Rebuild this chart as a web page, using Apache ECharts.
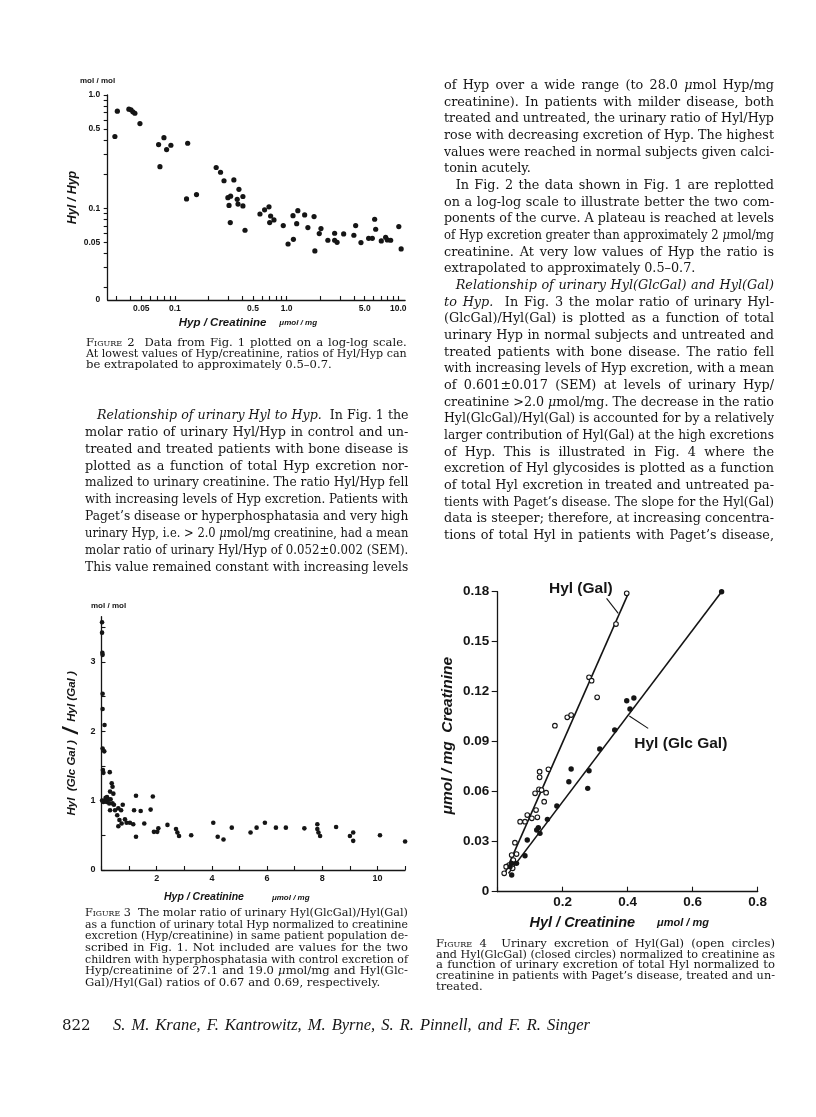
<!DOCTYPE html>
<html><head><meta charset="utf-8">
<script src="https://cdn.jsdelivr.net/npm/echarts@6/dist/echarts.min.js"></script>
<style>
html,body{margin:0;padding:0;background:#fff;}
#page{position:relative;width:816px;height:1117px;overflow:hidden;background:#fff;}
#chart{position:absolute;left:0;top:0;width:816px;height:1117px;}
.ln{position:absolute;white-space:nowrap;font-family:"DejaVu Serif",serif;color:#151515;}
.ln span{display:inline-block;transform-origin:0 50%;}
.sc{font-variant:small-caps;}
.lbl{position:absolute;font-family:"Liberation Sans",Arial,sans-serif;font-weight:bold;color:#151515;white-space:nowrap;line-height:1;}
</style></head>
<body><div id="page"><div id="chart"></div></div>
<script>
// ---------- Figure 2 (log-log): [Hyp/creatinine, Hyl/Hyp]
const fig2Points = [[0.029,0.43],[0.0305,0.72],[0.0387,0.75],[0.0404,0.74],[0.042,0.71],[0.0438,0.69],[0.0486,0.56],
[0.0714,0.365],[0.0797,0.42],[0.0842,0.33],[0.092,0.36],[0.0734,0.233],[0.13,0.375],[0.127,0.121],[0.156,0.132],
[0.234,0.229],[0.256,0.208],[0.275,0.175],[0.337,0.178],[0.298,0.124],[0.315,0.128],[0.305,0.106],[0.313,0.0748],
[0.361,0.12],[0.374,0.147],[0.367,0.109],[0.406,0.127],[0.406,0.105],[0.424,0.064],[0.577,0.089],[0.635,0.097],
[0.695,0.103],[0.719,0.0855],[0.77,0.0789],[0.705,0.0748],[0.933,0.0703],[1.03,0.0484],[1.15,0.0532],[1.14,0.0861],
[1.26,0.0953],[1.23,0.0732],[1.45,0.0873],[1.55,0.0675],[1.76,0.0844],[1.79,0.042],[1.96,0.0598],[2.03,0.0662],
[2.34,0.0522],[2.69,0.0602],[2.69,0.0522],[2.83,0.0501],[3.24,0.0594],[4.0,0.0578],[4.15,0.0703],[4.63,0.0498],
[5.42,0.0543],[5.85,0.0543],[6.14,0.08],[6.27,0.0653],[7.04,0.0515],[7.7,0.0555],[7.97,0.0526],[8.54,0.0522],
[10.1,0.0689],[10.6,0.0438]];
const fig2XTicks = [0.03,0.04,0.05,0.06,0.07,0.08,0.09,0.1,0.2,0.3,0.4,0.5,0.6,0.7,0.8,0.9,1,2,3,4,5,6,7,8,9,10];
const fig2XLabelValues = [0.05,0.1,0.5,1,5,10];
const fig2XLabelTexts = ['0.05','0.1','0.5','1.0','5.0','10.0'];
const fig2YTicks = [0.02,0.03,0.04,0.05,0.06,0.07,0.08,0.09,0.1,0.2,0.3,0.4,0.5,0.6,0.7,0.8,0.9,1.0];
const fig2YLabelValues = [0.01552,0.05,0.1,0.5,1.0];
const fig2YLabelTexts = ['0','0.05','0.1','0.5','1.0'];

// ---------- Figure 3: [Hyp/creatinine, Hyl(GlcGal)/Hyl(Gal)]
const fig3Points = [[0.02,3.57],[0.02,3.42],[0.03,3.13],[0.04,3.10],[0.04,2.54],[0.04,2.32],[0.11,2.09],[0.04,1.75],
[0.1,1.71],[0.05,1.44],[0.07,1.40],[0.3,1.41],[0.37,1.25],[0.4,1.2],[0.31,1.13],[0.43,1.1],[0.02,1.0],[0.1,1.0],
[0.15,1.04],[0.2,1.05],[0.07,0.98],[0.19,0.98],[0.25,1.02],[0.33,1.02],[0.28,0.96],[0.4,0.96],[0.45,0.94],[0.31,0.86],
[0.49,0.86],[0.61,0.89],[0.71,0.86],[0.77,0.94],[0.57,0.79],[0.65,0.72],[0.61,0.63],[0.73,0.67],[0.85,0.73],[0.91,0.68],
[1.03,0.68],[1.15,0.66],[1.25,1.07],[1.18,0.86],[1.42,0.85],[1.25,0.48],[1.55,0.67],[1.78,0.87],[1.86,1.06],[1.9,0.55],
[2.06,0.6],[2.02,0.55],[2.39,0.65],[2.7,0.59],[2.75,0.54],[2.81,0.49],[3.25,0.5],[4.05,0.68],[4.21,0.48],[4.42,0.44],
[4.72,0.61],[5.4,0.54],[5.62,0.61],[5.92,0.68],[6.32,0.61],[6.68,0.61],[7.35,0.6],[7.82,0.66],[7.82,0.59],[7.86,0.54],
[7.92,0.49],[8.5,0.62],[9.0,0.49],[9.12,0.54],[9.12,0.42],[10.09,0.5],[11.0,0.41]];
const fig3YLabelValues = [0,1,2,3];
const fig3YTicks = [0,0.5,1,1.5,2,2.5,3,3.5];

// ---------- Figure 4: [Hyl/creatinine, glycoside/creatinine]
const fig4Gal = [[0.397,0.179],[0.42,0.1804],[0.364,0.1606],[0.281,0.1286],[0.289,0.1266],[0.306,0.1166],[0.214,0.1046],
[0.226,0.106],[0.176,0.0996],[0.129,0.072],[0.129,0.0686],[0.156,0.0734],[0.115,0.059],[0.127,0.0614],[0.135,0.061],
[0.149,0.0594],[0.143,0.054],[0.118,0.049],[0.122,0.0446],[0.105,0.044],[0.091,0.046],[0.084,0.042],[0.069,0.042],
[0.053,0.0294],[0.058,0.0226],[0.043,0.022],[0.048,0.019],[0.035,0.016],[0.026,0.015],[0.02,0.011],[0.046,0.014]];
const fig4GlcGal = [[0.689,0.18],[0.397,0.1146],[0.419,0.1162],[0.407,0.1096],[0.36,0.097],[0.314,0.0856],[0.226,0.0736],
[0.219,0.066],[0.281,0.0726],[0.277,0.062],[0.182,0.0514],[0.153,0.0434],[0.125,0.0384],[0.12,0.037],[0.13,0.035],
[0.091,0.031],[0.084,0.0216],[0.058,0.017],[0.043,0.017],[0.043,0.010],[0.038,0.015]];
const fig4GalLine = [[0.022,0.011],[0.402,0.179]];
const fig4GlcGalLine = [[0.033,0.011],[0.689,0.18]];
const fig4GalArrow = [[0.335,0.176],[0.371,0.167]];
const fig4GlcGalArrow = [[0.463,0.098],[0.405,0.1054]];
const fig4GalLabelAt = [0.2557,0.178];
const fig4GlcGalLabelAt = [0.5634,0.089];

const INK = '#151515';
const SANS = '"Liberation Sans", Arial, sans-serif';

function pick(values, texts) {
  return function (v) {
    let best = 0, bd = Infinity;
    for (let i = 0; i < values.length; i++) {
      const d = Math.abs(Math.log(v) - Math.log(values[i] || 1e-9));
      if (d < bd) { bd = d; best = i; }
    }
    return texts[best];
  };
}
const lineAx = {lineStyle:{color:INK,width:1.3}};
const tickSt = {color:INK,width:1.1};
const lbl = (size, margin) => ({color:INK,fontFamily:SANS,fontWeight:'bold',fontSize:size,margin:margin});
const nameSt = (size) => ({color:INK,fontFamily:SANS,fontWeight:'bold',fontStyle:'italic',fontSize:size});
const dot = {color:INK, opacity:1};

const chart = echarts.init(document.getElementById('chart'), null, {renderer:'canvas'});
chart.setOption({
  animation:false,
  backgroundColor:'transparent',
  grid:[
    {left:107.7, top:95, width:297.4, height:205, outerBoundsMode:'none', containLabel:false},
    {left:101.5, top:616.7, width:303.6, height:253.3, outerBoundsMode:'none', containLabel:false},
    {left:497.7, top:591.7, width:260, height:300, outerBoundsMode:'none', containLabel:false}
  ],
  xAxis:[
    {gridIndex:0, type:'log', logBase:10, min:0.025, max:11.5, splitLine:{show:false}, minorTick:{show:false},
     axisLine:lineAx, axisTick:{inside:true,length:4,lineStyle:tickSt,customValues:fig2XTicks},
     axisLabel:Object.assign(lbl(8.5,4),{customValues:fig2XLabelValues, formatter:pick(fig2XLabelValues,fig2XLabelTexts)}),
     name:'{a|Hyp / Creatinine}{b|μmol / mg}', nameLocation:'middle', nameGap:17, nameMoveOverlap:false,
     nameTextStyle:Object.assign(nameSt(11.5),{padding:[0,17,0,0],rich:{a:nameSt(11.5),b:{color:INK,fontFamily:SANS,fontWeight:'bold',fontSize:8,padding:[0,0,0,13]}}})},
    {gridIndex:1, type:'value', min:0, max:11, interval:1, splitLine:{show:false},
     axisLine:lineAx, axisTick:{inside:true,length:4,lineStyle:tickSt},
     axisLabel:Object.assign(lbl(9,4.5),{formatter:v => (v>0 && v%2===0) ? String(v) : ''}),
     name:'{a|Hyp / Creatinine}{b|μmol / mg}', nameLocation:'middle', nameGap:22, nameMoveOverlap:false,
     nameTextStyle:Object.assign(nameSt(10.5),{padding:[0,33,0,0],rich:{a:nameSt(10.5),b:{color:INK,fontFamily:SANS,fontWeight:'bold',fontSize:8,padding:[0,0,0,28]}}})},
    {gridIndex:2, type:'value', min:0, max:0.8, interval:0.2, splitLine:{show:false},
     axisLine:lineAx, axisTick:{inside:true,length:5,lineStyle:tickSt},
     axisLabel:Object.assign(lbl(13.5,4),{formatter:v => v===0 ? '' : v.toFixed(1)}),
     name:'{a|Hyl / Creatinine}{b|μmol / mg}', nameLocation:'middle', nameGap:24, nameMoveOverlap:false,
     nameTextStyle:Object.assign(nameSt(14.5),{padding:[0,17,0,0],rich:{a:nameSt(14.5),b:{color:INK,fontFamily:SANS,fontWeight:'bold',fontSize:11,padding:[0,0,0,22]}}})}
  ],
  yAxis:[
    {gridIndex:0, type:'log', logBase:10, min:0.0155, max:1.0, splitLine:{show:false}, minorTick:{show:false},
     axisLine:lineAx, axisTick:{inside:false,length:4,lineStyle:tickSt,customValues:fig2YTicks},
     axisLabel:Object.assign(lbl(8.5,7.5),{customValues:fig2YLabelValues, formatter:pick(fig2YLabelValues,fig2YLabelTexts)}),
     name:'Hyl / Hyp', nameLocation:'middle', nameRotate:90, nameGap:28.5, nameMoveOverlap:false, nameTextStyle:nameSt(12.5)},
    {gridIndex:1, type:'value', min:0, max:3.65, splitLine:{show:false},
     axisLine:lineAx, axisTick:{inside:true,length:4,lineStyle:tickSt,customValues:fig3YTicks},
     axisLabel:Object.assign(lbl(9,6),{customValues:fig3YLabelValues, formatter:v => String(v)}),
     name:'{a|Hyl  (Glc Gal )}{s| / }{a|Hyl (Gal )}', nameLocation:'middle', nameRotate:90, nameGap:18.5, nameMoveOverlap:false,
     nameTextStyle:Object.assign(nameSt(11.5),{padding:[0,0,0,0],rich:{a:nameSt(11.5),s:{color:INK,fontFamily:SANS,fontWeight:'bold',fontStyle:'italic',fontSize:22}}})},
    {gridIndex:2, type:'value', min:0, max:0.18, interval:0.03, splitLine:{show:false},
     axisLine:lineAx, axisTick:{inside:false,length:6,lineStyle:tickSt},
     axisLabel:Object.assign(lbl(13.5,8.5),{formatter:v => v===0 ? '0' : v.toFixed(2)}),
     name:'μmol / mg  Creatinine', nameLocation:'middle', nameRotate:90, nameGap:41.5, nameMoveOverlap:false,
     nameTextStyle:Object.assign(nameSt(15.5),{padding:[0,0,0,12]})}
  ],
  series:[
    {type:'scatter', xAxisIndex:0, yAxisIndex:0, data:fig2Points, symbol:'circle', symbolSize:5.2, itemStyle:dot, silent:true},
    {type:'scatter', xAxisIndex:1, yAxisIndex:1, data:fig3Points, symbol:'circle', symbolSize:4.6, itemStyle:dot, silent:true},
    {type:'line', xAxisIndex:2, yAxisIndex:2, data:fig4GalLine, showSymbol:false, symbol:'none', lineStyle:{color:INK,width:1.6}, silent:true,
     markLine:{silent:true, symbol:['none','arrow'], symbolSize:[0,7], label:{show:false}, lineStyle:{type:'solid',color:INK,width:1.1},
       data:[[{coord:fig4GalArrow[0]},{coord:fig4GalArrow[1]}]]},
     markPoint:{silent:true, data:[{coord:fig4GalLabelAt, symbol:'rect', symbolSize:1, itemStyle:{color:'rgba(0,0,0,0)'},
       label:{show:true, position:'inside', offset:[0,-6], formatter:'Hyl (Gal)', color:INK, fontFamily:SANS, fontWeight:'bold', fontSize:15.5}}]}},
    {type:'line', xAxisIndex:2, yAxisIndex:2, data:fig4GlcGalLine, showSymbol:false, symbol:'none', lineStyle:{color:INK,width:1.6}, silent:true,
     markLine:{silent:true, symbol:['none','arrow'], symbolSize:[0,7], label:{show:false}, lineStyle:{type:'solid',color:INK,width:1.1},
       data:[[{coord:fig4GlcGalArrow[0]},{coord:fig4GlcGalArrow[1]}]]},
     markPoint:{silent:true, data:[{coord:fig4GlcGalLabelAt, symbol:'rect', symbolSize:1, itemStyle:{color:'rgba(0,0,0,0)'},
       label:{show:true, position:'inside', formatter:'Hyl (Glc Gal)', color:INK, fontFamily:SANS, fontWeight:'bold', fontSize:15.5}}]}},
    {type:'scatter', xAxisIndex:2, yAxisIndex:2, data:fig4Gal, symbol:'circle', symbolSize:4.6, itemStyle:{color:'#fff',borderColor:INK,borderWidth:1.1,opacity:1}, silent:true, z:3},
    {type:'scatter', xAxisIndex:2, yAxisIndex:2, data:fig4GlcGal, symbol:'circle', symbolSize:5.4, itemStyle:dot, silent:true, z:3}
  ]
});

// ---------- page text
const page = document.getElementById('page');
function addLine(html, x, y, w, size, justify, extra) {
  const d = document.createElement('div');
  d.className = 'ln';
  d.style.left = x + 'px';
  d.style.top = (y - size * 0.62) + 'px';
  d.style.fontSize = size + 'px';
  d.style.lineHeight = (size * 1.2) + 'px';
  if (extra) Object.assign(d.style, extra);
  const s = document.createElement('span');
  s.innerHTML = html;
  d.appendChild(s);
  page.appendChild(d);
  const nat = s.getBoundingClientRect().width;
  if (nat > w) {
    s.style.transform = 'scaleX(' + (w / nat) + ')';
  } else if (justify) {
    const n = (s.textContent.match(/[ \u00a0]/g) || []).length;
    if (n) s.style.wordSpacing = ((w - nat) / n) + 'px';
  }
}
function addBlock(lines, x, y0, dy, w, size, lastLeft, indents) {
  lines.forEach((t, i) => {
    const ind = (indents && indents.indexOf(i) >= 0) ? 11.7 : 0;
    const left = lastLeft.indexOf(i) >= 0;
    addLine(t, x + ind, y0 + i * dy, w - ind, size, !left);
  });
}
const M = '<i>μ</i>';
const leftPara = [
  '<i>Relationship of urinary Hyl to Hyp.</i>&nbsp; In Fig. 1 the',
  'molar ratio of urinary Hyl/Hyp in control and un-',
  'treated and treated patients with bone disease is',
  'plotted as a function of total Hyp excretion nor-',
  'malized to urinary creatinine. The ratio Hyl/Hyp fell',
  'with increasing levels of Hyp excretion. Patients with',
  'Paget’s disease or hyperphosphatasia and very high',
  'urinary Hyp, i.e. &gt; 2.0 ' + M + 'mol/mg creatinine, had a mean',
  'molar ratio of urinary Hyl/Hyp of 0.052±0.002 (SEM).',
  'This value remained constant with increasing levels'
];
const rightPara = [
  'of Hyp over a wide range (to 28.0 ' + M + 'mol Hyp/mg',
  'creatinine). In patients with milder disease, both',
  'treated and untreated, the urinary ratio of Hyl/Hyp',
  'rose with decreasing excretion of Hyp. The highest',
  'values were reached in normal subjects given calci-',
  'tonin acutely.',
  'In Fig. 2 the data shown in Fig. 1 are replotted',
  'on a log-log scale to illustrate better the two com-',
  'ponents of the curve. A plateau is reached at levels',
  'of Hyp excretion greater than approximately 2 ' + M + 'mol/mg',
  'creatinine. At very low values of Hyp the ratio is',
  'extrapolated to approximately 0.5–0.7.',
  '<i>Relationship of urinary Hyl(GlcGal) and Hyl(Gal)</i>',
  '<i>to Hyp.</i>&nbsp; In Fig. 3 the molar ratio of urinary Hyl-',
  '(GlcGal)/Hyl(Gal) is plotted as a function of total',
  'urinary Hyp in normal subjects and untreated and',
  'treated patients with bone disease. The ratio fell',
  'with increasing levels of Hyp excretion, with a mean',
  'of 0.601±0.017 (SEM) at levels of urinary Hyp/',
  'creatinine &gt;2.0 ' + M + 'mol/mg. The decrease in the ratio',
  'Hyl(GlcGal)/Hyl(Gal) is accounted for by a relatively',
  'larger contribution of Hyl(Gal) at the high excretions',
  'of Hyp. This is illustrated in Fig. 4 where the',
  'excretion of Hyl glycosides is plotted as a function',
  'of total Hyl excretion in treated and untreated pa-',
  'tients with Paget’s disease. The slope for the Hyl(Gal)',
  'data is steeper; therefore, at increasing concentra-',
  'tions of total Hyl in patients with Paget’s disease,'
];
const cap2 = [
  '<span class="sc">Figure</span> 2&nbsp; Data from Fig. 1 plotted on a log-log scale.',
  'At lowest values of Hyp/creatinine, ratios of Hyl/Hyp can',
  'be extrapolated to approximately 0.5–0.7.'
];
const cap3 = [
  '<span class="sc">Figure</span> 3&nbsp; The molar ratio of urinary Hyl(GlcGal)/Hyl(Gal)',
  'as a function of urinary total Hyp normalized to creatinine',
  'excretion (Hyp/creatinine) in same patient population de-',
  'scribed in Fig. 1. Not included are values for the two',
  'children with hyperphosphatasia with control excretion of',
  'Hyp/creatinine of 27.1 and 19.0 ' + M + 'mol/mg and Hyl(Glc-',
  'Gal)/Hyl(Gal) ratios of 0.67 and 0.69, respectively.'
];
const cap4 = [
  '<span class="sc">Figure</span> 4&nbsp; Urinary excretion of Hyl(Gal) (open circles)',
  'and Hyl(GlcGal) (closed circles) normalized to creatinine as',
  'a function of urinary excretion of total Hyl normalized to',
  'creatinine in patients with Paget’s disease, treated and un-',
  'treated.'
];
addBlock(leftPara, 85, 415, 16.85, 323.3, 12.8, [], [0]);
addBlock(rightPara, 444, 85, 16.67, 330, 12.8, [5, 11], [6, 12]);
addBlock(cap2, 86, 343.3, 10.7, 320.7, 11.6, [2], []);
addBlock(cap3, 85, 913.3, 11.67, 323, 11.6, [6], []);
addBlock(cap4, 436, 944, 10.83, 339, 11.6, [4], []);
addLine('822', 62, 1025, 30, 15, false);
addLine('<i>S. M. Krane, F. Kantrowitz, M. Byrne, S. R. Pinnell, and F. R. Singer</i>', 113, 1025, 477, 16.5, true,
  {fontFamily:'"Liberation Serif", serif'});

function addLbl(t, x, y, size) {
  const d = document.createElement('div');
  d.className = 'lbl';
  d.style.left = x + 'px';
  d.style.top = (y - size / 2) + 'px';
  d.style.fontSize = size + 'px';
  d.textContent = t;
  page.appendChild(d);
}
addLbl('mol / mol', 80, 81, 8);
addLbl('mol / mol', 91, 605.7, 8);
</script>
</body></html>
